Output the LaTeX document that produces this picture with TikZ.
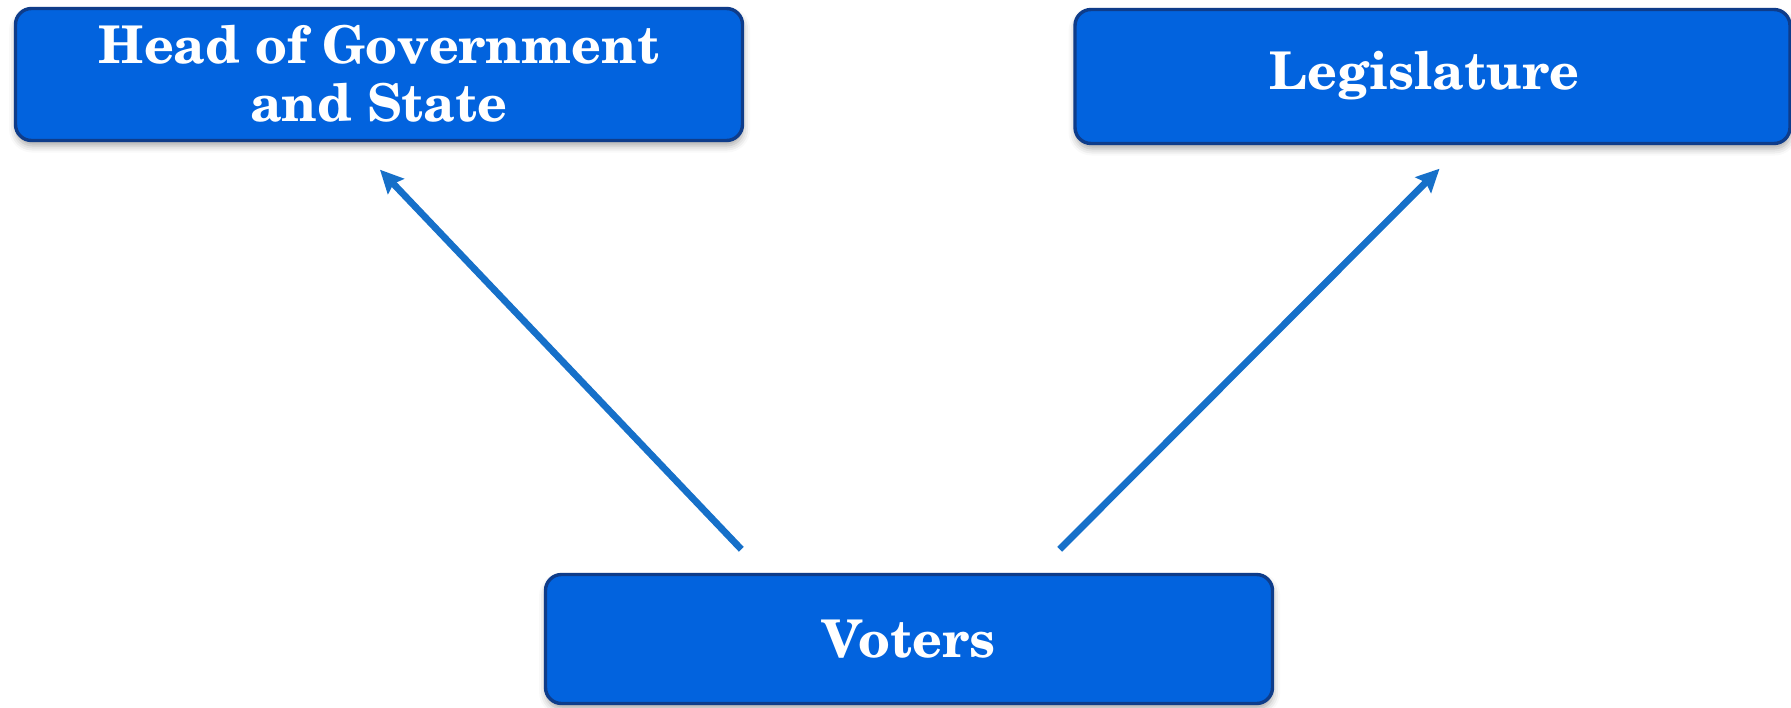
\documentclass[tikz,border=0pt]{standalone}
\usepackage[T1]{fontenc}
\usepackage{newcent}
\usetikzlibrary{arrows.meta,shadows.blur}
\definecolor{boxfill}{RGB}{2,99,222}
\definecolor{boxline}{RGB}{14,60,138}
\definecolor{arrowblue}{RGB}{22,112,201}
\tikzset{
  govbox/.style={draw=boxline, line width=1.7pt, fill=boxfill, rounded corners=8pt,
    text=white, font=\fontsize{26}{29}\selectfont\bfseries, align=center,
    inner sep=0pt,
    blur shadow={shadow xshift=0.3pt, shadow yshift=-2.5pt, shadow blur radius=3.5pt, shadow opacity=35}},
  voteline/.style={draw=arrowblue, line width=3.4pt, -{Stealth[length=11.5pt,width=11pt,inset=1.8pt]}}
}
\begin{document}
\begin{tikzpicture}[x=0.5pt,y=-0.5pt]
\useasboundingbox (0,0) rectangle (1791,707);
\node[govbox, minimum width=363.5pt, minimum height=66pt] (head) at (379,74.5)
  {Head of Government\\and State};
\node[govbox, minimum width=357.5pt, minimum height=67pt] (legis) at (1432.5,76.5)
  {Legislature\hspace*{8pt}};
\node[govbox, minimum width=363.5pt, minimum height=64.5pt] (voters) at (909,639)
  {Voters};
\draw[voteline] ([xshift=98.75pt,yshift=11.75pt]voters.north west) -- ([xshift=0.5pt,yshift=-13.75pt]head.south);
\draw[voteline] ([xshift=-107.25pt,yshift=11.75pt]voters.north east) -- ([xshift=3.5pt,yshift=-11.75pt]legis.south);
\end{tikzpicture}
\end{document}
